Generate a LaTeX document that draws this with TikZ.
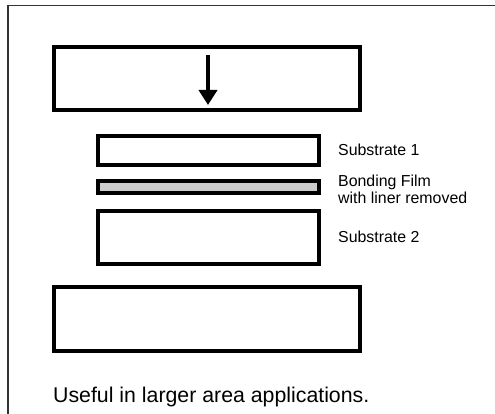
\documentclass[tikz,border=0pt]{standalone}
\usepackage{fontspec}
\setmainfont{Liberation Sans}
\usetikzlibrary{arrows.meta}
\begin{document}
\begin{tikzpicture}[x=1pt,y=-1pt,
  layer/.style={draw=black,line width=4pt,fill=white},
  film/.style={draw=black,line width=4pt,fill=black!20},
  lbl/.style={anchor=base west,inner sep=0pt,font=\fontsize{15.9}{17}\selectfont,align=left},
  note/.style={anchor=base west,inner sep=0pt,font=\fontsize{21.3}{24}\selectfont}]
\useasboundingbox (0,0) rectangle (495,414);
% frame
\draw[line width=1.3pt,black!80] (8,414) -- (8,5.5) -- (495,5.5);
% press top
\draw[layer] (54,47) rectangle (360,110);
\coordinate (ptop) at (208,55);
\coordinate (ptip) at (208,105);
\draw[line width=4.6pt,-{Triangle[width=18pt,length=15pt]}] (ptop) -- (ptip);
% substrates
\draw[layer] (98,136) rectangle (319,165);
\draw[film] (98,181) rectangle (319,193);
\draw[layer] (98,211) rectangle (319,264);
% press bottom
\draw[layer] (54,287) rectangle (360,351);
% labels
\node[lbl] (s1) at (338,155.7) {Substrate 1};
\node[lbl,anchor=north west] (bf) at (338,174.5) {Bonding Film\\with liner removed};
\node[lbl] (s2) at (338,242.5) {Substrate 2};
\node[note] (useful) at (53,402) {Useful in larger area applications.};
\end{tikzpicture}
\end{document}
